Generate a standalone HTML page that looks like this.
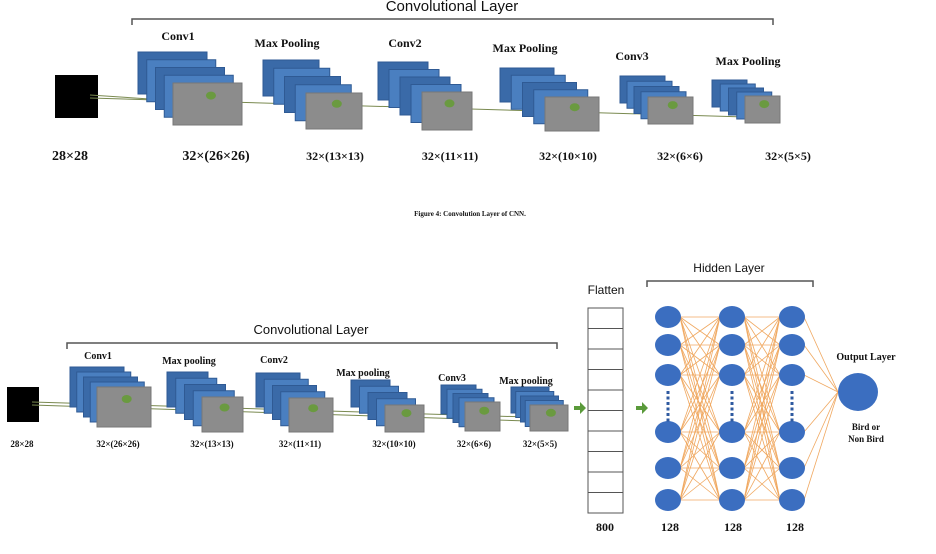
<!DOCTYPE html>
<html><head><meta charset="utf-8"><style>
body{margin:0;background:#fff}
svg{display:block}
text{font-family:"Liberation Serif",serif;font-weight:bold;fill:#111}
.sans{font-family:"Liberation Sans",sans-serif;font-weight:normal}
</style></head><body>
<svg id="s" width="936" height="554" viewBox="0 0 936 554">
<g id="g"></g>
</svg>
<script>
const stackLabels1=["Conv1","Max Pooling","Conv2","Max Pooling","Conv3","Max Pooling"];
const dimLabels1=["28×28","32×(26×26)","32×(13×13)","32×(11×11)","32×(10×10)","32×(6×6)","32×(5×5)"];
const stackLabels2=["Conv1","Max pooling","Conv2","Max pooling","Conv3","Max pooling"];
const hiddenSizes=["800","128","128","128"];
const NS="http://www.w3.org/2000/svg";
const g=document.getElementById('g');
function el(t,a,txt){const e=document.createElementNS(NS,t);for(const k in a)e.setAttribute(k,a[k]);if(txt!==undefined)e.textContent=txt;g.appendChild(e);return e;}
function stack(name,bx,by,fx,fy,w,h){
  const n=5;
  for(let i=0;i<n;i++){
    const x=bx+(fx-bx)*i/(n-1),y=by+(fy-by)*i/(n-1);
    const r=el('rect',{x:x,y:y,width:w,height:h,fill:i==n-1?'#8c8c8c':(i%2?'#4a7fc0':'#3a6aa8'),stroke:i==n-1?'#777':'#2f5a94','stroke-width':1});
    
    
  }
  el('ellipse',{cx:fx+w*0.55,cy:fy+h*0.3,rx:5,ry:4,fill:'#6a9a40'});
}
function txt(x,y,s,size,name,cls){const t=el('text',{x:x,y:y,'font-size':size,'text-anchor':'middle'},s);if(cls)t.setAttribute('class',cls);return t;}
function bracket(x1,x2,y,name){const p=el('path',{d:`M${x1} ${y+6}V${y}H${x2}V${y+6}`,stroke:'#555',fill:'none','stroke-width':1.5});}

// ---------- top figure ----------
txt(452,11,"Convolutional Layer",15,"top-title","sans");
bracket(132,773,19,"top-bracket");
el('rect',{x:55,y:75,width:43,height:43,fill:'#000'});
el('line',{x1:90,y1:95,x2:240,y2:105,stroke:'#7a8a50','stroke-width':1});
el('line',{x1:90,y1:98,x2:780,y2:118,stroke:'#7a8a50','stroke-width':1});
const topStacks=[[138,52,173,83,69,42],[263,60,306,93,56,36],[378,62,422,92,50,38],[500,68,545,97,54,34],[620,76,648,97,45,27],[712,80,745,96,35,27]];
topStacks.forEach((s,i)=>stack('top-stack-'+(i+1),...s));
const topLblX=[178,287,405,525,632,748],topLblY=[40,47,47,52,60,65];
stackLabels1.forEach((s,i)=>txt(topLblX[i],topLblY[i],s,12,'top-label-'+(i+1)));
const topDimX=[70,216,335,450,568,680,788];
dimLabels1.forEach((s,i)=>txt(topDimX[i],160,s,i<2?14:12,'top-dim-'+(i+1)));
txt(470,216,"Figure 4: Convolution Layer of CNN.",7,"figure-caption");

// ---------- bottom figure ----------
txt(311,334,"Convolutional Layer",13,"bottom-title","sans");
bracket(67,557,343,"bottom-bracket");
el('rect',{x:7,y:387,width:32,height:35,fill:'#000'});
el('line',{x1:32,y1:402,x2:560,y2:418,stroke:'#7a8a50','stroke-width':1});
el('line',{x1:32,y1:405,x2:560,y2:422,stroke:'#7a8a50','stroke-width':1});
const botStacks=[[70,367,97,387,54,40],[167,372,202,397,41,35],[256,373,289,398,44,34],[351,380,385,405,39,27],[441,385,465,402,35,29],[511,387,530,405,38,26]];
botStacks.forEach((s,i)=>stack('bottom-stack-'+(i+1),...s));
const botLblX=[98,189,274,363,452,526],botLblY=[359,364,363,376,381,384];
stackLabels2.forEach((s,i)=>txt(botLblX[i],botLblY[i],s,10,'bottom-label-'+(i+1)));
const botDimX=[22,118,212,300,394,474,540];
dimLabels1.forEach((s,i)=>txt(botDimX[i],447,s,9,'bottom-dim-'+(i+1)));
// arrows
[[574,408],[636,408]].forEach((a,i)=>{const p=el('path',{d:`M${a[0]} ${a[1]-2}h6v-4l6 6-6 6v-4h-6z`,fill:'#5a9a3a'});});
// flatten
txt(606,294,"Flatten",12,"flatten-label","sans");
for(let i=0;i<10;i++){const r=el('rect',{x:588,y:308+i*20.5,width:35,height:20.5,fill:'#fff',stroke:'#555','stroke-width':1});}
// dense
const colX=[668,732,792],rowY=[317,345,375,432,468,500];
for(let c=0;c<2;c++)for(const a of rowY)for(const b of rowY)el('line',{x1:colX[c]+12,y1:a,x2:colX[c+1]-12,y2:b,stroke:'#f0a860','stroke-width':0.8});
for(const a of rowY)el('line',{x1:colX[2]+12,y1:a,x2:838,y2:392,stroke:'#f0a860','stroke-width':0.8});
colX.forEach((x,c)=>{rowY.forEach((y,r)=>{const e=el('ellipse',{cx:x,cy:y,rx:13,ry:11,fill:'#3b6ec0'});});
  for(let k=0;k<6;k++)el('rect',{x:x-1.5,y:391+k*5.5,width:3,height:3,fill:'#2f5aa0'});});
const o=el('ellipse',{cx:858,cy:392,rx:20,ry:19,fill:'#3b6ec0'});
txt(866,360,"Output Layer",10,"output-layer-label");
txt(866,430,"Bird or",9,"output-class-1");
txt(866,442,"Non Bird",9,"output-class-2");
txt(729,272,"Hidden Layer",12,"hidden-layer-title","sans");
bracket(647,813,281,"hidden-bracket");
const sizeX=[605,670,733,795];
hiddenSizes.forEach((s,i)=>txt(sizeX[i],531,s,12,'size-label-'+(i+1)));
</script>
</body></html>
